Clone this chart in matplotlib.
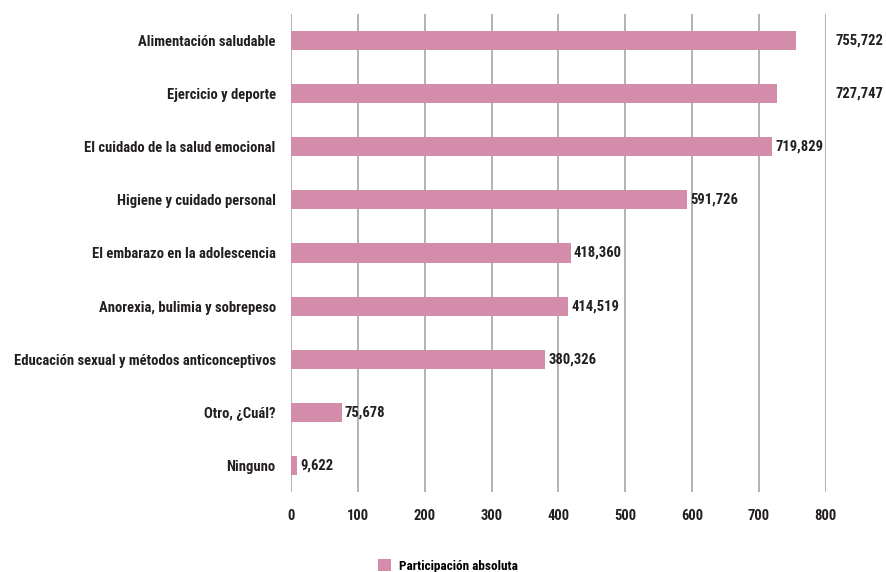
import matplotlib
matplotlib.use("Agg")
import matplotlib.pyplot as plt
from matplotlib import font_manager

categories = [
    "Alimentación saludable",
    "Ejercicio y deporte",
    "El cuidado de la salud emocional",
    "Higiene y cuidado personal",
    "El embarazo en la adolescencia",
    "Anorexia, bulimia y sobrepeso",
    "Educación sexual y métodos anticonceptivos",
    "Otro, ¿Cuál?",
    "Ninguno",
]
values = [755722, 727747, 719829, 591726, 418360, 414519, 380326, 75678, 9622]
ticks = [0, 100, 200, 300, 400, 500, 600, 700, 800]

# look for a narrow bold face, the original uses a condensed font
fonts = font_manager.fontManager.ttflist
names = {f.name for f in fonts}
fam, stretch = "DejaVu Sans", "normal"
for cand in ["Roboto Condensed", "Open Sans Condensed", "Liberation Sans Narrow",
             "Noto Sans Condensed", "DejaVu Sans Condensed"]:
    if cand in names:
        fam = cand
        break
else:
    if any("Condensed" in f.fname and "DejaVuSans" in f.fname for f in fonts):
        stretch = "condensed"
plt.rcParams["font.family"] = [fam, "DejaVu Sans"]
plt.rcParams["font.stretch"] = stretch
plt.rcParams["font.weight"] = "bold"

ink = "#231f20"
bar_color = "#d38caa"
fs = 10.5

fig = plt.figure(figsize=(8.87, 5.72), dpi=100)
ax = fig.add_axes([0.328, 0.14, 0.603, 0.8355])

ypos = list(range(len(categories)))
scaled = [v / 1000 for v in values]
ax.barh(ypos, scaled, height=0.36, color=bar_color, zorder=3,
        label="Participación absoluta")

ax.set_xlim(0, 800)
ax.set_ylim(len(categories) - 0.5, -0.5)
ax.set_xticks(ticks)
ax.set_xticklabels([str(t) for t in ticks], fontsize=fs, fontweight="bold", color=ink)
ax.set_yticks(ypos)
ax.set_yticklabels(categories, fontsize=fs, fontweight="bold", color=ink)
ax.tick_params(axis="x", length=0, pad=12)
ax.tick_params(axis="y", length=0, pad=11)
ax.grid(axis="x", color="#acacac", linewidth=1.3, zorder=0)
for s in ax.spines.values():
    s.set_visible(False)

for y, v, s in zip(ypos, values, scaled):
    x = s + 5
    if s > 725:
        x = 815  # the two longest labels sit past the last gridline
    ax.text(x, y, f"{v:,}", va="center", ha="left", fontsize=fs,
            fontweight="bold", color=ink, zorder=4)

fig.legend(loc="lower center", bbox_to_anchor=(0.505, -0.022), frameon=False,
           prop={"size": 9.5, "weight": "bold"}, handlelength=1.0, handleheight=1.0,
           handletextpad=0.6)

fig.savefig("out.png", dpi=100)
